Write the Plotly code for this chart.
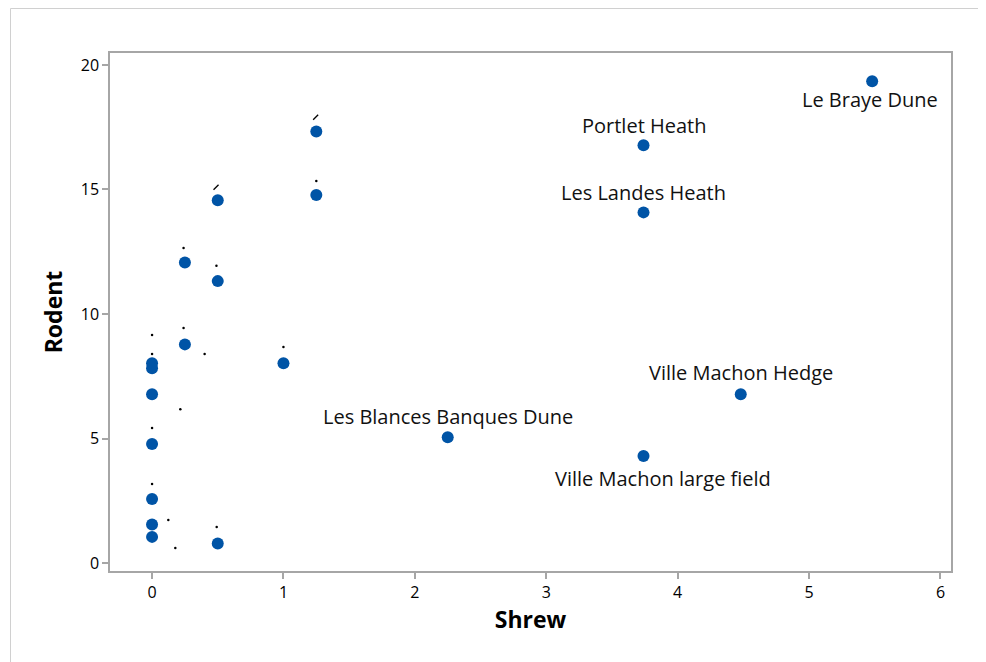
import plotly.graph_objects as go

# site abundances (shrew vs rodent)
shrew = [5.48, 3.74, 3.74, 4.48, 3.74, 2.25,
         1.25, 1.25, 0.5, 0.5, 0.25, 0.25, 1.0,
         0, 0, 0, 0, 0, 0, 0, 0.5]
rodent = [19.35, 16.78, 14.08, 6.78, 4.3, 5.05,
          17.33, 14.78, 14.57, 11.32, 12.07, 8.78, 8.02,
          8.02, 7.82, 6.78, 4.78, 2.57, 1.55, 1.05, 0.78]
site = ["Le Braye Dune", "Portlet Heath", "Les Landes Heath", "Ville Machon Hedge",
        "Ville Machon large field", "Les Blances Banques Dune"]
# label placement for the named sites: (x shift px, y shift px)
label_pos = [(-2, -18), (0, 20), (0, 20), (0, 22), (19, -23), (0, 21)]

# tiny leftover label marks near the unnamed points
dot_x = [1.25, 0.24, 0.49, 0.0, 0.24, 0.0, 0.4, 1.0, 0.215, 0.0, 0.0, 0.124, 0.492, 0.177]
dot_y = [15.34, 12.65, 11.94, 9.16, 9.44, 8.39, 8.39, 8.67, 6.18, 5.42, 3.17, 1.73, 1.45, 0.6]
tick_x = [1.245, 0.487]
tick_y = [17.9, 15.09]

# page body adds an 8px offset, so the figure is 8px smaller
W, H = 978, 654
L, R, T, B = 102, 35, 45, 91

fig = go.Figure()
fig.add_trace(go.Scatter(x=shrew, y=rodent, mode='markers',
                         marker=dict(color='#0054a6', size=12), showlegend=False))
fig.add_trace(go.Scatter(x=dot_x, y=dot_y, mode='markers',
                         marker=dict(color='black', size=2.5), showlegend=False))
fig.add_trace(go.Scatter(x=tick_x, y=tick_y, mode='markers',
                         marker=dict(color='black', size=5, symbol='line-ne-open',
                                     line=dict(width=1.3, color='black')),
                         showlegend=False))

for i, name in enumerate(site):
    dx, dy = label_pos[i]
    fig.add_annotation(x=shrew[i], y=rodent[i], text=name, showarrow=False,
                       xshift=dx, yshift=dy,
                       font=dict(family='Open Sans', size=20, color='#111'))

# light outer border (top and left edges only show in the frame)
pw, ph = W - L - R, H - T - B
bx0 = (2.5 - L) / pw
by1 = 1 + (T - 0.5) / ph
fig.add_shape(type='line', xref='paper', yref='paper',
              x0=bx0, x1=(W + 20 - L) / pw, y0=by1, y1=by1,
              line=dict(color='#d0d0d0', width=1), layer='below')
fig.add_shape(type='line', xref='paper', yref='paper',
              x0=bx0, x1=bx0, y0=by1, y1=-(B + 20) / ph,
              line=dict(color='#d0d0d0', width=1), layer='below')

axis_common = dict(showgrid=False, zeroline=False, showline=True, mirror=True,
                   linecolor='#a6a6a6', linewidth=1.5, ticks='outside', ticklen=6,
                   tickcolor='#a6a6a6', tickwidth=1.5,
                   tickfont=dict(family='Open Sans', size=16, color='black'))

fig.update_layout(
    width=W, height=H,
    margin=dict(l=L, r=R, t=T, b=B),
    paper_bgcolor='white', plot_bgcolor='white',
    xaxis=dict(range=[-0.32, 6.08], tickvals=[0, 1, 2, 3, 4, 5, 6],
               title=dict(text='<b>Shrew</b>', standoff=10,
                          font=dict(family='Open Sans', size=23, color='black')),
               **axis_common),
    yaxis=dict(range=[-0.32, 20.48], tickvals=[0, 5, 10, 15, 20],
               title=dict(text='<b>Rodent</b>', standoff=12,
                          font=dict(family='Open Sans', size=23, color='black')),
               **axis_common),
)

fig.write_html("out.html")
